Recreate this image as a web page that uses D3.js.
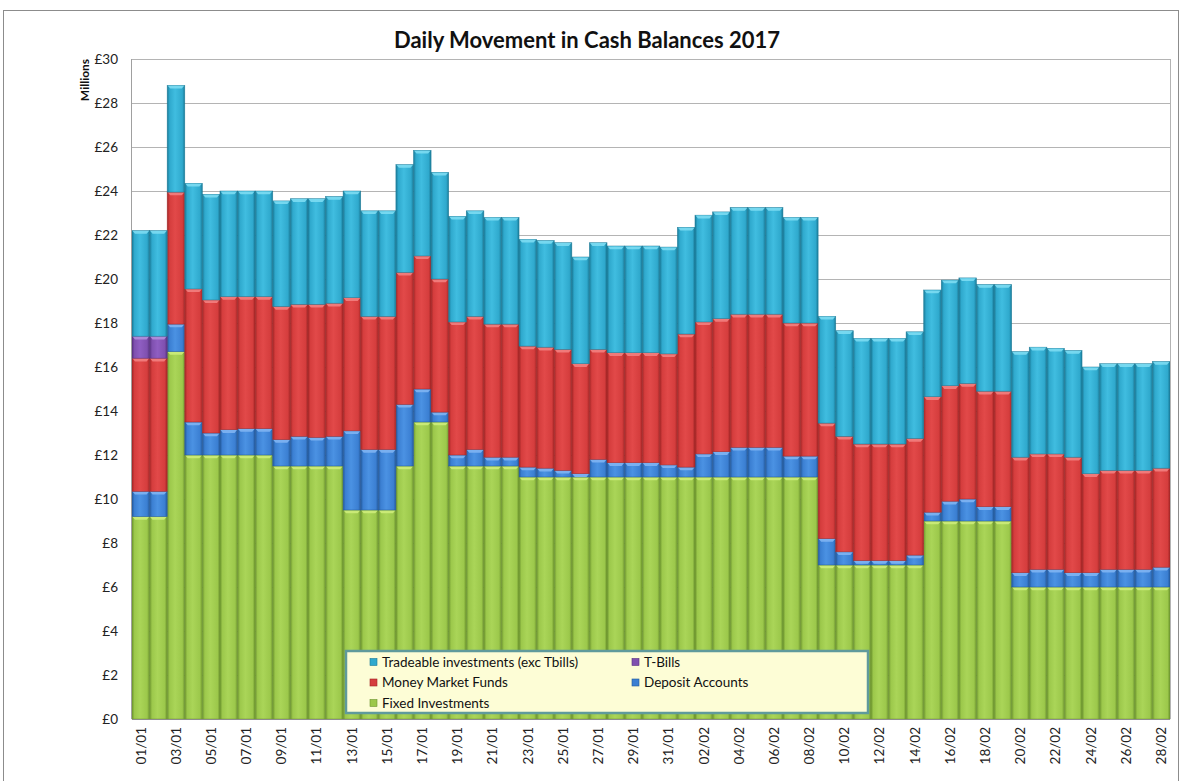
<!DOCTYPE html>
<html>
<head>
<meta charset="utf-8">
<script src="https://cdn.jsdelivr.net/npm/d3@7"></script>
<style>
  body { margin: 0; background: #fff; }
  svg { display: block; font-family: Lato, "Open Sans", sans-serif; }
</style>
</head>
<body>
<script>
// dates, one bar per day
const dates = [
  "01/01","02/01","03/01","04/01","05/01","06/01","07/01","08/01","09/01","10/01",
  "11/01","12/01","13/01","14/01","15/01","16/01","17/01","18/01","19/01","20/01",
  "21/01","22/01","23/01","24/01","25/01","26/01","27/01","28/01","29/01","30/01",
  "31/01","01/02","02/02","03/02","04/02","05/02","06/02","07/02","08/02","09/02",
  "10/02","11/02","12/02","13/02","14/02","15/02","16/02","17/02","18/02","19/02",
  "20/02","21/02","22/02","23/02","24/02","25/02","26/02","27/02","28/02"
];

// £ millions
const fixedInv = [
  9.2,9.2,16.7,12,12,12,12,12,11.5,11.5,
  11.5,11.5,9.5,9.5,9.5,11.5,13.5,13.5,11.5,11.5,
  11.5,11.5,11,11,11,11,11,11,11,11,
  11,11,11,11,11,11,11,11,11,7,
  7,7,7,7,7,9,9,9,9,9,
  6,6,6,6,6,6,6,6,6
];
const deposit = [
  1.15,1.15,1.25,1.5,1.0,1.15,1.2,1.2,1.2,1.35,
  1.3,1.35,3.6,2.75,2.75,2.8,1.5,0.45,0.5,0.75,
  0.4,0.4,0.45,0.4,0.3,0.15,0.8,0.65,0.65,0.65,
  0.55,0.45,1.05,1.15,1.35,1.35,1.35,0.95,0.95,1.2,
  0.6,0.2,0.2,0.2,0.45,0.4,0.9,1.0,0.65,0.65,
  0.65,0.8,0.8,0.65,0.65,0.8,0.8,0.8,0.9
];
const moneyMarket = [
  6.05,6.05,6.0,6.05,6.05,6.05,6.0,6.0,6.05,6.0,
  6.05,6.05,6.05,6.05,6.05,6.0,6.05,6.05,6.05,6.05,
  6.05,6.05,5.5,5.5,5.5,5.0,5.0,5.0,5.0,5.0,
  5.05,6.05,6.0,6.05,6.05,6.05,6.05,6.05,6.05,5.25,
  5.25,5.3,5.3,5.3,5.3,5.25,5.25,5.25,5.25,5.25,
  5.25,5.25,5.25,5.25,4.5,4.5,4.5,4.5,4.5
];
const tBills = [
  1.0,1.0,0,0,0,0,0,0,0,0,
  0,0,0,0,0,0,0,0,0,0,
  0,0,0,0,0,0,0,0,0,0,
  0,0,0,0,0,0,0,0,0,0,
  0,0,0,0,0,0,0,0,0,0,
  0,0,0,0,0,0,0,0,0
];
const tradeable = [
  4.8,4.8,4.85,4.8,4.8,4.8,4.8,4.8,4.8,4.8,
  4.8,4.85,4.85,4.8,4.8,4.9,4.8,4.85,4.8,4.8,
  4.85,4.85,4.85,4.85,4.85,4.85,4.85,4.85,4.85,4.85,
  4.85,4.85,4.85,4.85,4.85,4.85,4.85,4.8,4.8,4.85,
  4.8,4.8,4.8,4.8,4.85,4.85,4.8,4.8,4.85,4.85,
  4.8,4.85,4.8,4.85,4.85,4.85,4.85,4.85,4.85
];
const yTicks = [0,2,4,6,8,10,12,14,16,18,20,22,24,26,28,30];

const series = [
  {key: "fixed", name: "Fixed Investments", values: fixedInv,
   base: "#9cc84b", light: "#aad558", dark: "#6d952f", bevel: "#cdec7a"},
  {key: "deposit", name: "Deposit Accounts", values: deposit,
   base: "#3b7fd2", light: "#4b92e3", dark: "#245a9c", bevel: "#80b4f2"},
  {key: "mmf", name: "Money Market Funds", values: moneyMarket,
   base: "#d53d3d", light: "#e24949", dark: "#a32727", bevel: "#f28080"},
  {key: "tbills", name: "T-Bills", values: tBills,
   base: "#7f50af", light: "#8f5ec2", dark: "#573180", bevel: "#b090dc"},
  {key: "trade", name: "Tradeable investments (exc Tbills)", values: tradeable,
   base: "#2fa9cd", light: "#40bde0", dark: "#1a7a97", bevel: "#7cdcf2"}
];

const width = 1182, height = 781;
const plotLeft = 132, plotRight = 1170, plotTop = 59, plotBottom = 719;

const table = dates.map((d, i) => {
  const row = {date: d};
  series.forEach(s => row[s.key] = s.values[i]);
  return row;
});

const svg = d3.select("body").append("svg")
  .attr("width", width)
  .attr("height", height);

// outer chart border
svg.append("rect")
  .attr("x", 3.5).attr("y", 10.5)
  .attr("width", 1175).attr("height", 800)
  .attr("fill", "#fff")
  .attr("stroke", "#8c8c8c")
  .attr("stroke-width", 1);

const x = d3.scaleBand().domain(dates).range([plotLeft, plotRight]).padding(0);
const y = d3.scaleLinear().domain([0, 30]).range([plotBottom, plotTop]);

const defs = svg.append("defs");
series.forEach(s => {
  const g = defs.append("linearGradient")
    .attr("id", "grad-" + s.key)
    .attr("x1", "0%").attr("x2", "100%").attr("y1", "0%").attr("y2", "0%");
  g.append("stop").attr("offset", "0%").attr("stop-color", s.dark);
  g.append("stop").attr("offset", "14%").attr("stop-color", s.base);
  g.append("stop").attr("offset", "45%").attr("stop-color", s.light);
  g.append("stop").attr("offset", "86%").attr("stop-color", s.base);
  g.append("stop").attr("offset", "100%").attr("stop-color", s.dark);
});

// gridlines
svg.append("g")
  .selectAll("line")
  .data(yTicks.filter(t => t > 0))
  .join("line")
  .attr("x1", plotLeft).attr("x2", plotRight)
  .attr("y1", d => y(d) + 0.5).attr("y2", d => y(d) + 0.5)
  .attr("stroke", "#b4b4b4")
  .attr("stroke-width", 1);

// stacked bars
const stack = d3.stack().keys(series.map(s => s.key));
const layers = stack(table);

const layerG = svg.append("g")
  .selectAll("g")
  .data(layers)
  .join("g");

layerG.selectAll("rect.bar")
  .data(d => d.map(v => ({v: v, key: d.key})))
  .join("rect")
  .attr("class", "bar")
  .attr("x", d => x(d.v.data.date))
  .attr("width", x.bandwidth())
  .attr("y", d => y(d.v[1]))
  .attr("height", d => Math.max(0, y(d.v[0]) - y(d.v[1])))
  .attr("fill", d => "url(#grad-" + d.key + ")")
  .attr("stroke", d => series.find(s => s.key === d.key).dark)
  .attr("stroke-width", 0.6)
  .attr("stroke-opacity", 0.8);

// light bevel at the top of each segment
layerG.selectAll("path.bevel")
  .data(d => d.filter(v => v[1] - v[0] > 0.15).map(v => ({v: v, key: d.key})))
  .join("path")
  .attr("class", "bevel")
  .attr("d", d => {
    const x0 = x(d.v.data.date), w = x.bandwidth(), yt = y(d.v[1]);
    return `M${x0 + 0.6},${yt + 0.4} L${x0 + w - 0.6},${yt + 0.4} L${x0 + w - 3},${yt + 3.2} L${x0 + 3},${yt + 3.2} Z`;
  })
  .attr("fill", d => series.find(s => s.key === d.key).bevel)
  .attr("opacity", 0.9);

// axes lines
svg.append("line")
  .attr("x1", plotLeft - 0.5).attr("x2", plotLeft - 0.5)
  .attr("y1", plotTop).attr("y2", plotBottom)
  .attr("stroke", "#a0a0a0");
svg.append("line")
  .attr("x1", plotRight + 0.5).attr("x2", plotRight + 0.5)
  .attr("y1", plotTop).attr("y2", plotBottom)
  .attr("stroke", "#b4b4b4");
svg.append("line")
  .attr("x1", plotLeft).attr("x2", plotRight)
  .attr("y1", plotBottom + 0.5).attr("y2", plotBottom + 0.5)
  .attr("stroke", "#8c8c8c");

// y axis labels
const yAxis = d3.axisLeft(y)
  .tickValues(yTicks)
  .tickSize(0)
  .tickPadding(14)
  .tickFormat(d => "£" + d);
svg.append("g")
  .attr("transform", `translate(${plotLeft},0)`)
  .call(yAxis)
  .call(g => g.select(".domain").remove())
  .call(g => g.selectAll("text")
    .attr("font-family", "Lato, sans-serif")
    .attr("font-size", 13.5)
    .attr("fill", "#222"));

// x axis labels (every second day)
const xAxis = d3.axisBottom(x)
  .tickValues(dates.filter((d, i) => i % 2 === 0))
  .tickSize(0);
svg.append("g")
  .attr("transform", `translate(0,${plotBottom})`)
  .call(xAxis)
  .call(g => g.select(".domain").remove())
  .call(g => g.selectAll("text")
    .attr("font-family", "Lato, sans-serif")
    .attr("font-size", 13.5)
    .attr("fill", "#222")
    .attr("transform", "rotate(-90)")
    .attr("text-anchor", "end")
    .attr("dy", "0.35em")
    .attr("x", -8)
    .attr("y", 0));

// axis title
svg.append("text")
  .attr("transform", "translate(89,80) rotate(-90)")
  .attr("text-anchor", "middle")
  .attr("font-family", "Lato, sans-serif")
  .attr("font-weight", "bold")
  .attr("font-size", 12)
  .attr("fill", "#111")
  .text("Millions");

// chart title
svg.append("text")
  .attr("x", 587)
  .attr("y", 48)
  .attr("text-anchor", "middle")
  .attr("font-family", "Lato, sans-serif")
  .attr("font-weight", "bold")
  .attr("font-size", 22)
  .attr("fill", "#111")
  .text("Daily Movement in Cash Balances 2017");

// legend
const legendItems = [
  {s: series[4], col: 0, row: 0},
  {s: series[3], col: 1, row: 0},
  {s: series[2], col: 0, row: 1},
  {s: series[1], col: 1, row: 1},
  {s: series[0], col: 0, row: 2}
];
const legend = svg.append("g").attr("transform", "translate(346,651)");
legend.append("rect")
  .attr("width", 522).attr("height", 62)
  .attr("fill", "#fdfdd6")
  .attr("stroke", "#5f9a9c")
  .attr("stroke-width", 2.5);
const li = legend.selectAll("g.item")
  .data(legendItems)
  .join("g")
  .attr("class", "item")
  .attr("transform", d => `translate(${d.col === 0 ? 24 : 286},${11 + d.row * 20.5})`);
li.append("rect")
  .attr("x", 0).attr("y", -3.5)
  .attr("width", 7).attr("height", 7)
  .attr("fill", d => d.s.base)
  .attr("stroke", d => d.s.dark)
  .attr("stroke-width", 0.6);
li.append("text")
  .attr("x", 12)
  .attr("dy", "0.36em")
  .attr("font-family", "Lato, sans-serif")
  .attr("font-size", 13.5)
  .attr("fill", "#111")
  .text(d => d.s.name);
</script>
</body>
</html>
